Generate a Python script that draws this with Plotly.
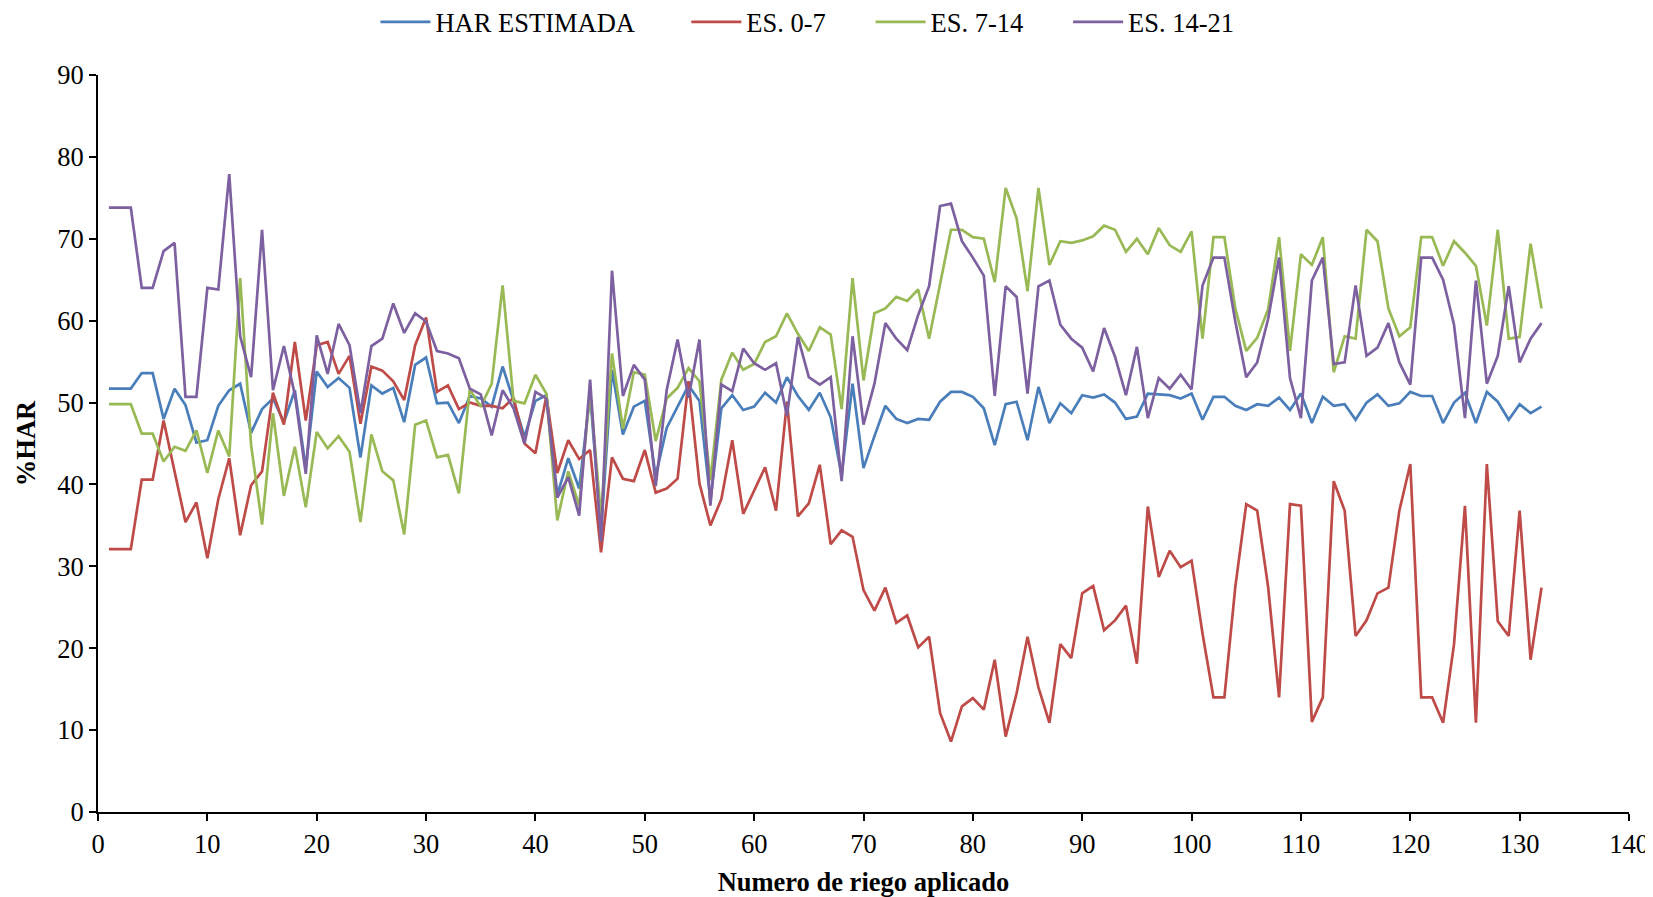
import plotly.graph_objects as go

riego = list(range(1, 133))

har_estimada = [
    51.7, 51.7, 51.7, 53.6, 53.6, 48.0, 51.7, 49.7, 45.1, 45.4, 49.6, 51.5,
    52.3, 46.3, 49.2, 50.5, 47.6, 51.5, 42.0, 53.8, 51.9, 53.0, 51.8,
    43.3, 52.1, 51.1, 51.8, 47.6, 54.6, 55.5, 49.9, 50.0, 47.5, 50.8,
    50.5, 49.5, 54.4, 50.2, 45.8, 50.2, 50.9, 38.7, 43.2, 39.5, 51.0,
    34.3, 54.0, 46.1, 49.5, 50.2, 41.0, 46.9, 49.5, 52.1, 50.2, 38.0,
    49.3, 50.9, 49.1, 49.5, 51.2, 50.0, 53.1, 50.8, 49.1, 51.2, 48.2,
    41.1, 52.3, 42.0, 45.9, 49.6, 48.0, 47.5, 48.0, 47.9, 50.1, 51.3,
    51.3, 50.7, 49.3, 44.8, 49.8, 50.1, 45.4, 51.9, 47.5, 49.9, 48.7,
    50.9, 50.6, 51.0, 50.0, 48.0, 48.3, 51.1, 51.0, 50.9, 50.5, 51.1,
    47.9, 50.7, 50.7, 49.6, 49.1, 49.8, 49.6, 50.6, 49.1, 51.1, 47.5,
    50.7, 49.6, 49.8, 47.9, 50.0, 51.0, 49.6, 49.9, 51.3, 50.8, 50.8,
    47.5, 50.0, 51.2, 47.5, 51.3, 50.1, 47.9, 49.8, 48.7, 49.5,
]

es_0_7 = [
    32.1, 32.1, 32.1, 40.6, 40.6, 47.8, 41.4, 35.4, 37.8, 31.0, 38.2, 43.2,
    33.8, 39.9, 41.6, 51.2, 47.3, 57.4, 47.8, 57.0, 57.4, 53.5, 55.7,
    47.4, 54.4, 53.9, 52.6, 50.3, 57.0, 60.4, 51.3, 52.1, 49.2, 50.0,
    49.6, 49.6, 49.3, 50.6, 45.0, 43.8, 50.8, 41.4, 45.4, 43.1, 44.2,
    31.7, 43.3, 40.7, 40.4, 44.2, 39.0, 39.5, 40.7, 52.6, 40.1, 35.0,
    38.2, 45.4, 36.4, 39.3, 42.1, 36.8, 50.1, 36.1, 37.7, 42.4, 32.7,
    34.4, 33.6, 27.1, 24.6, 27.4, 23.1, 24.0, 20.1, 21.4, 12.1, 8.6,
    12.9, 13.9, 12.5, 18.6, 9.2, 14.5, 21.4, 15.2, 10.9, 20.5, 18.8,
    26.7, 27.6, 22.2, 23.4, 25.2, 18.1, 37.3, 28.7, 31.9, 29.9, 30.7,
    21.8, 14.0, 14.0, 27.5, 37.6, 36.8, 27.5, 14.0, 37.6, 37.4, 11.0,
    14.0, 40.4, 36.8, 21.5, 23.4, 26.7, 27.4, 36.8, 42.5, 14.0, 14.0,
    10.9, 20.5, 37.4, 10.9, 42.5, 23.3, 21.5, 36.8, 18.6, 27.4,
]

es_7_14 = [
    49.8, 49.8, 49.8, 46.2, 46.2, 42.8, 44.6, 44.1, 46.6, 41.4, 46.6, 43.4,
    65.2, 44.8, 35.1, 48.7, 38.6, 44.6, 37.2, 46.4, 44.4, 45.9, 44.0,
    35.4, 46.1, 41.6, 40.5, 33.9, 47.3, 47.8, 43.3, 43.6, 38.9, 51.6,
    49.5, 52.3, 64.3, 50.2, 49.9, 53.4, 51.1, 35.6, 41.6, 37.4, 51.5,
    36.0, 56.0, 46.8, 53.7, 53.4, 45.3, 50.5, 51.8, 54.2, 52.6, 40.5,
    52.8, 56.1, 54.0, 54.7, 57.4, 58.1, 60.9, 58.4, 56.3, 59.2, 58.3,
    49.2, 65.2, 52.7, 60.9, 61.5, 62.9, 62.4, 63.8, 57.8, 64.6, 71.1,
    71.1, 70.2, 70.0, 64.7, 76.2, 72.5, 63.6, 76.2, 66.8, 69.7, 69.5,
    69.8, 70.3, 71.6, 71.1, 68.4, 70.0, 68.1, 71.3, 69.2, 68.4, 70.9,
    57.8, 70.2, 70.2, 61.5, 56.3, 57.9, 61.4, 70.2, 56.3, 68.1, 66.8,
    70.2, 53.7, 58.1, 57.8, 71.1, 69.7, 61.5, 58.1, 59.2, 70.2, 70.2,
    66.7, 69.7, 68.3, 66.7, 59.4, 71.1, 57.8, 58.0, 69.4, 61.5,
]

es_14_21 = [
    73.8, 73.8, 73.8, 64.0, 64.0, 68.5, 69.5, 50.7, 50.7, 64.0, 63.8, 77.9,
    58.1, 53.1, 71.1, 51.5, 56.9, 51.0, 41.3, 58.2, 53.5, 59.6, 57.0,
    48.7, 56.9, 57.8, 62.1, 58.5, 60.9, 59.9, 56.3, 56.0, 55.4, 51.7,
    51.0, 46.0, 51.5, 49.3, 45.0, 51.3, 50.5, 38.4, 40.9, 36.2, 52.8,
    33.0, 66.1, 50.8, 54.6, 52.8, 39.8, 51.5, 57.7, 50.6, 57.7, 37.4,
    52.2, 51.4, 56.6, 54.8, 54.0, 54.8, 48.4, 58.0, 53.1, 52.2, 53.1,
    40.4, 58.1, 47.3, 52.3, 59.7, 57.8, 56.4, 60.7, 64.2, 74.0, 74.3,
    69.7, 67.7, 65.5, 50.8, 64.2, 62.9, 51.1, 64.2, 64.9, 59.5, 57.8,
    56.7, 53.8, 59.1, 55.6, 50.9, 56.8, 48.1, 53.0, 51.7, 53.4, 51.6,
    64.3, 67.7, 67.7, 59.9, 53.1, 54.9, 60.2, 67.7, 53.0, 48.1, 64.9,
    67.7, 54.7, 54.9, 64.3, 55.7, 56.7, 59.7, 54.9, 52.2, 67.7, 67.7,
    65.0, 59.5, 48.1, 64.9, 52.3, 55.7, 64.2, 54.9, 57.8, 59.7,
]

series_names = ["HAR ESTIMADA", "ES. 0-7", "ES. 7-14", "ES. 14-21"]
series_values = [har_estimada, es_0_7, es_7_14, es_14_21]
series_colors = ["#4A7EBB", "#BE4B48", "#98B954", "#7D60A0"]
legend_pads = [7, 6, 6, 0]

FONT = "Liberation Serif, Times New Roman, serif"

fig = go.Figure()
for name, vals, color, pad in zip(series_names, series_values, series_colors, legend_pads):
    fig.add_trace(go.Scatter(
        x=riego, y=vals, name=name + "\u00a0" * pad, mode="lines",
        line=dict(color=color, width=2.7),
    ))

fig.update_layout(
    width=1645, height=889,
    paper_bgcolor="white", plot_bgcolor="white",
    font=dict(family=FONT, size=26, color="black"),
    margin=dict(l=90, r=24, t=67, b=85, autoexpand=False),
    showlegend=True,
    legend=dict(
        orientation="h", xref="container", yref="container",
        x=0.486, xanchor="center", y=0.984, yanchor="middle",
        font=dict(family=FONT, size=26.5, color="black"),
        itemwidth=50, bgcolor="rgba(0,0,0,0)",
    ),
    xaxis=dict(
        range=[0, 140], tickmode="linear", tick0=0, dtick=10,
        automargin=False,
        showline=True, linecolor="black", linewidth=2,
        ticks="outside", ticklen=7, tickwidth=2, tickcolor="black",
        showgrid=False, zeroline=False,
        title=dict(text="<b>Numero de riego aplicado</b>", standoff=15,
                   font=dict(family=FONT, size=26.5)),
        tickfont=dict(family=FONT, size=26.5),
    ),
    yaxis=dict(
        range=[0, 90], tickmode="linear", tick0=0, dtick=10,
        automargin=False,
        showline=True, linecolor="black", linewidth=2,
        ticks="outside", ticklen=7, tickwidth=2, tickcolor="black",
        showgrid=False, zeroline=False,
        title=dict(text="<b>%HAR</b>", standoff=14,
                   font=dict(family=FONT, size=26.5)),
        tickfont=dict(family=FONT, size=26.5),
    ),
)

fig.write_html("out.html")
